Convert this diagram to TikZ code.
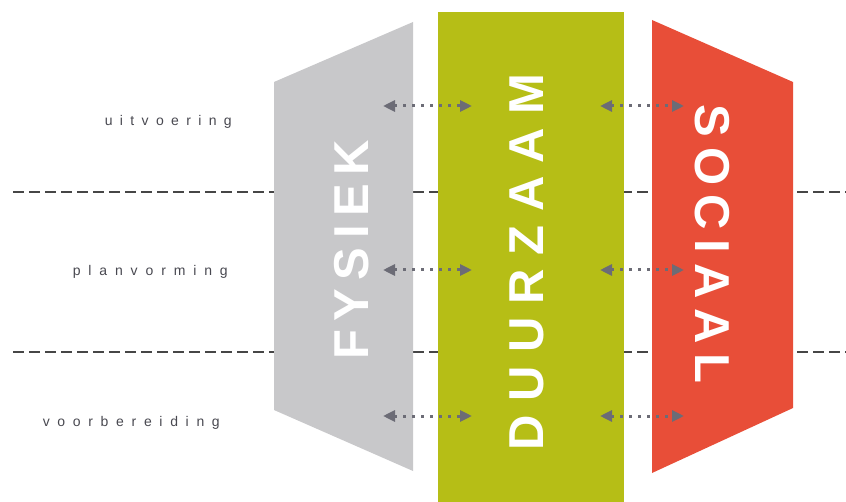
\documentclass[tikz,border=0pt]{standalone}
\usepackage{fontspec}
\setmainfont{Liberation Sans}
\usetikzlibrary{arrows.meta}
\definecolor{fysgray}{RGB}{200,200,202}
\definecolor{duurgreen}{RGB}{182,190,22}
\definecolor{socred}{RGB}{232,78,56}
\definecolor{arrowgray}{RGB}{108,108,118}
\definecolor{labelgray}{RGB}{72,72,80}
\definecolor{dashgray}{RGB}{70,70,70}
\newcommand{\spreadtext}[2]{\makebox[#1][s]{#2}}
\tikzset{
  divider/.style={draw=dashgray, line width=2pt, dash pattern=on 11pt off 5pt},
  bigword/.style={text=white, inner sep=0pt, font=\bfseries\fontsize{49}{49}\selectfont},
  phase/.style={text=labelgray, inner sep=0pt, anchor=east, font=\fontsize{14}{14}\selectfont},
  link/.style={draw=arrowgray, line width=3pt, dash pattern=on 3pt off 6pt,
    {Triangle[length=12pt,width=11pt]}-{Triangle[length=12pt,width=11pt]}}
}
\begin{document}
\begin{tikzpicture}[x=1pt,y=-1pt]
\useasboundingbox (0,0) rectangle (846,502);
% dividers
\coordinate (d1a) at (13,192); \coordinate (d1b) at (846,192);
\coordinate (d2a) at (13,352); \coordinate (d2b) at (846,352);
\draw[divider] (d1a) -- (d1b);
\draw[divider] (d2a) -- (d2b);
% shapes
\fill[fysgray] (274,82) -- (413,22) -- (413,471) -- (274,410) -- cycle;
\fill[duurgreen] (438,12) rectangle (624,502);
\fill[socred] (652,20) -- (793,82) -- (793,408) -- (652,473) -- cycle;
% big words
\node[bigword, rotate=90] (fysiek) at (352,250) {\spreadtext{220pt}{F\hfill Y\hfill S\hfill I\hfill E\hfill K}};
\node[bigword, rotate=90] (duurzaam) at (527,262) {\spreadtext{377pt}{D\hfill U\hfill U\hfill R\hfill Z\hfill A\hfill A\hfill M}};
\node[bigword, rotate=-90] (sociaal) at (712,244) {\spreadtext{278pt}{S\hfill O\hfill C\hfill I\hfill A\hfill A\hfill L}};
% phase labels
\node[phase] (uit) at (232,122) {\spreadtext{127pt}{u\hfill i\hfill t\hfill v\hfill o\hfill e\hfill r\hfill i\hfill n\hfill g}};
\node[phase] (plan) at (228,272) {\spreadtext{155pt}{p\hfill l\hfill a\hfill n\hfill v\hfill o\hfill r\hfill m\hfill i\hfill n\hfill g}};
\node[phase] (voor) at (220,423) {\spreadtext{177pt}{v\hfill o\hfill o\hfill r\hfill b\hfill e\hfill r\hfill e\hfill i\hfill d\hfill i\hfill n\hfill g}};
% arrow endpoints
\coordinate (l1a) at (383,106); \coordinate (l1b) at (472,106);
\coordinate (r1a) at (600,106); \coordinate (r1b) at (684,106);
\coordinate (l2a) at (383,270); \coordinate (l2b) at (472,270);
\coordinate (r2a) at (600,270); \coordinate (r2b) at (684,270);
\coordinate (l3a) at (383,416); \coordinate (l3b) at (472,416);
\coordinate (r3a) at (600,416); \coordinate (r3b) at (684,416);
\draw[link] (l1a) -- (l1b);
\draw[link] (r1a) -- (r1b);
\draw[link] (l2a) -- (l2b);
\draw[link] (r2a) -- (r2b);
\draw[link] (l3a) -- (l3b);
\draw[link] (r3a) -- (r3b);
\end{tikzpicture}
\end{document}
